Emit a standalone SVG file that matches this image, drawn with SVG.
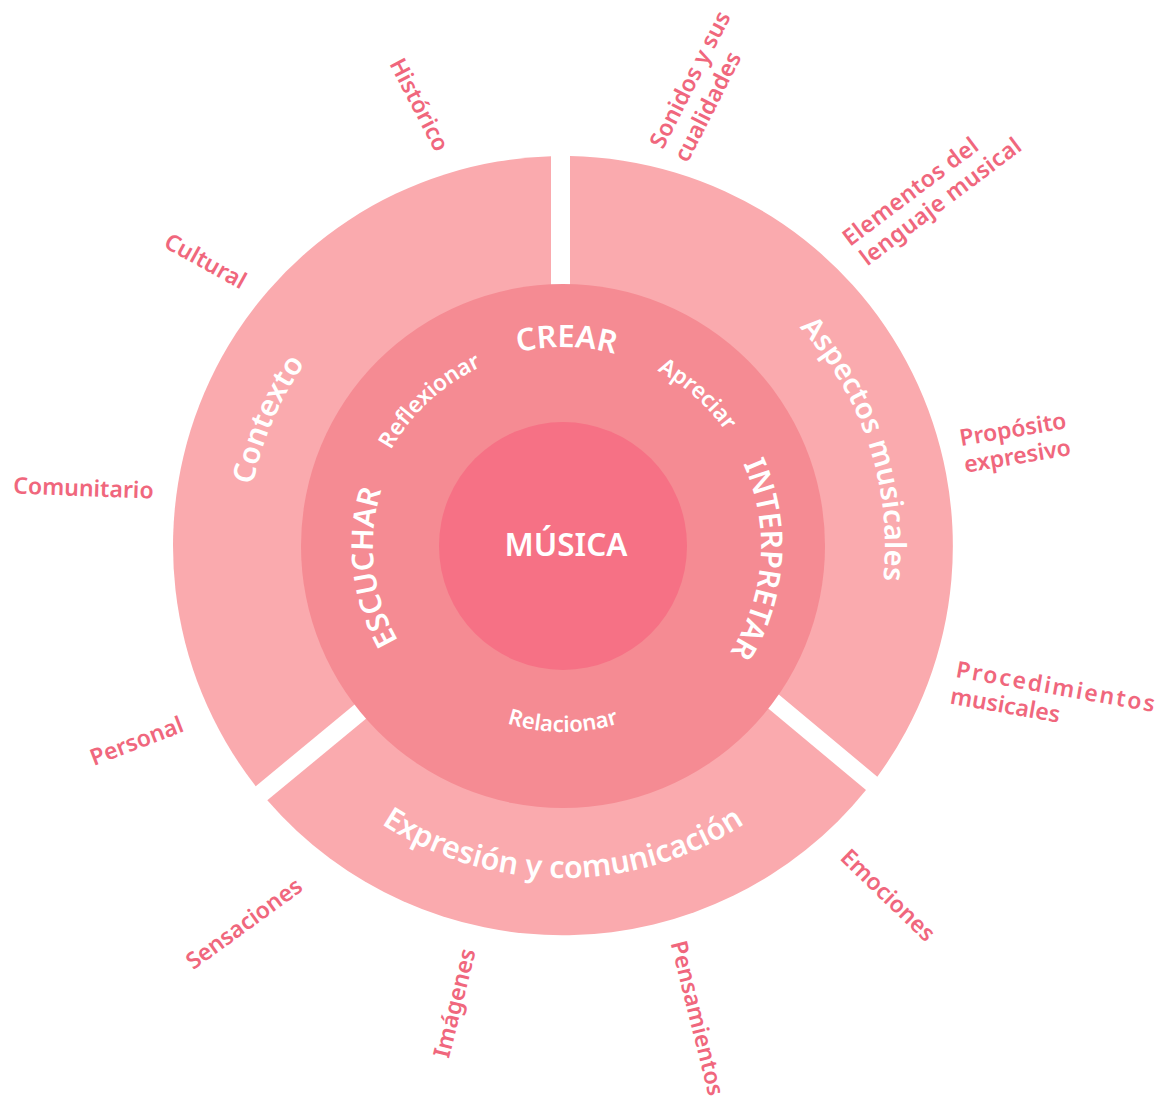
<svg xmlns="http://www.w3.org/2000/svg" width="1163" height="1099" viewBox="0 0 1163 1099">
<style>
.seg{fill:#FAAAAE}
.mid{fill:#F58B93}
.core{fill:#F67185}
.w{fill:#FFFFFF;font-family:"Noto Sans","Open Sans","Liberation Sans",sans-serif;font-weight:600}
.lab{fill:#F0677D;font-family:"Noto Sans","Open Sans","Liberation Sans",sans-serif;font-weight:600;font-size:23px}
</style>
<defs>
<path id="pCrear" d="M367.66,508.03 A199,199 0 0 1 759.55,514.87"/>
<path id="pReflex" d="M397.04,652.14 A197,197 0 0 1 682.65,389.50"/>
<path id="pApre" d="M439.12,390.26 A199,199 0 0 1 732.68,649.98"/>
<path id="pInter" d="M610.90,353.88 A198,198 0 0 1 583.70,742.92"/>
<path id="pEsc" d="M551.07,735.63 A190,190 0 0 1 509.36,363.73"/>
<path id="pRel" d="M379.83,578.30 A186,186 0 0 0 746.17,578.30"/>
<path id="pCtx" d="M389.97,810.42 A316,316 0 0 1 635.16,238.35"/>
<path id="pAsp" d="M516.52,227.37 A322,322 0 0 1 715.66,829.51"/>
<path id="pExp" d="M236.04,603.65 A332,332 0 0 0 889.96,603.65"/>
</defs>

<g id="contexto">
<path class="seg" d="M255.75,786.2 A390,390 0 0 1 551,156.2 L551,542.2 Z"/>
</g>
<g id="aspectos-musicales">
<path class="seg" d="M570,156.06 A390,390 0 0 1 877.3,776.7 L570,520.6 Z"/>
</g>
<g id="expresion-comunicacion">
<path class="seg" d="M866,790 A390,390 0 0 1 267.3,800.3 L574.2,546.7 Z"/>
</g>

<g id="anillo-procesos">
<circle class="mid" cx="563" cy="546" r="262"/>
</g>
<g id="musica">
<circle class="core" cx="563" cy="546" r="124"/>
<text class="w" x="566" y="556" font-size="31.5" text-anchor="middle">MÚSICA</text>
</g>

<g id="crear"><text class="w" font-size="31"><textPath href="#pCrear" startOffset="50%" text-anchor="middle">CREAR</textPath></text></g>
<g id="interpretar"><text class="w" font-size="30"><textPath href="#pInter" startOffset="50%" text-anchor="middle">INTERPRETAR</textPath></text></g>
<g id="escuchar"><text class="w" font-size="30"><textPath href="#pEsc" startOffset="50%" text-anchor="middle">ESCUCHAR</textPath></text></g>
<g id="reflexionar"><text class="w" font-size="22.5"><textPath href="#pReflex" startOffset="50%" text-anchor="middle">Reflexionar</textPath></text></g>
<g id="apreciar"><text class="w" font-size="22.5"><textPath href="#pApre" startOffset="50%" text-anchor="middle">Apreciar</textPath></text></g>
<g id="relacionar"><text class="w" font-size="22"><textPath href="#pRel" startOffset="50%" text-anchor="middle">Relacionar</textPath></text></g>

<g id="contexto-label"><text class="w" font-size="30"><textPath href="#pCtx" startOffset="50%" text-anchor="middle">Contexto</textPath></text></g>
<g id="aspectos-label"><text class="w" font-size="29"><textPath href="#pAsp" startOffset="50%" text-anchor="middle">Aspectos musicales</textPath></text></g>
<g id="expresion-label"><text class="w" font-size="30.5"><textPath href="#pExp" startOffset="50%" text-anchor="middle">Expresión y comunicación</textPath></text></g>

<g id="historico"><text class="lab" text-anchor="middle" dy="0.35em" transform="translate(419.5,104.5) rotate(62.5)">Histórico</text></g>
<g id="cultural"><text class="lab" text-anchor="middle" dy="0.35em" transform="translate(205.5,261) rotate(29)">Cultural</text></g>
<g id="comunitario"><text class="lab" text-anchor="middle" dy="0.35em" transform="translate(83.5,488) rotate(2)">Comunitario</text></g>
<g id="personal"><text class="lab" text-anchor="middle" dy="0.35em" transform="translate(136.5,741) rotate(-21)">Personal</text></g>
<g id="sensaciones"><text class="lab" text-anchor="middle" dy="0.35em" transform="translate(244,923.5) rotate(-36)">Sensaciones</text></g>
<g id="imagenes"><text class="lab" text-anchor="middle" dy="0.35em" transform="translate(454.5,1003) rotate(-76)">Imágenes</text></g>
<g id="pensamientos"><text class="lab" text-anchor="middle" dy="0.35em" transform="translate(697.5,1018) rotate(76)">Pensamientos</text></g>
<g id="emociones"><text class="lab" text-anchor="middle" dy="0.35em" transform="translate(888,895) rotate(44)">Emociones</text></g>
<g id="sonidos"><text class="lab" transform="translate(663,150) rotate(-63)"><tspan x="0" y="0">Sonidos y sus</tspan><tspan x="-1" y="28">cualidades</tspan></text></g>
<g id="elementos"><text class="lab" transform="translate(850,247) rotate(-37)"><tspan x="0" y="0" letter-spacing="0.4">Elementos del</tspan><tspan x="2" y="26" letter-spacing="0.4">lenguaje musical</tspan></text></g>
<g id="proposito"><text class="lab" transform="translate(961,446) rotate(-9.5)"><tspan x="0" y="0">Propósito</tspan><tspan x="0" y="27">expresivo</tspan></text></g>
<g id="procedimientos"><text class="lab" transform="translate(955,677) rotate(10)"><tspan x="0" y="0" letter-spacing="2">Procedimientos</tspan><tspan x="-1" y="27">musicales</tspan></text></g>
</svg>
